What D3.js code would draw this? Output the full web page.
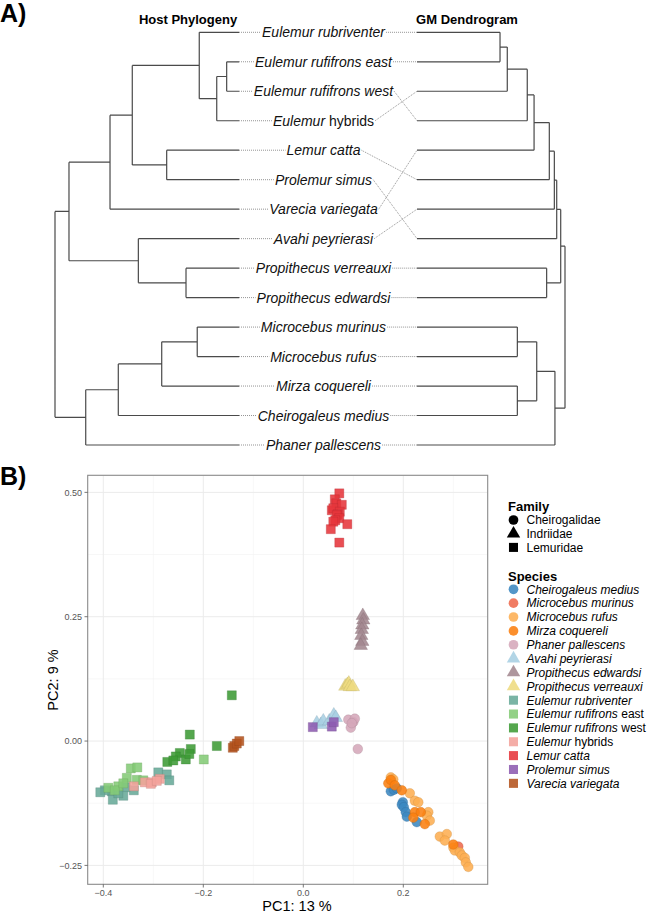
<!DOCTYPE html>
<html>
<head>
<meta charset="utf-8">
<script src="https://cdn.jsdelivr.net/npm/d3@7"></script>
<style>
body { margin: 0; background: #fff; }
text { font-family: "Liberation Sans", Arial, sans-serif; }
</style>
</head>
<body>
<svg id="fig" width="650" height="913"></svg>
<script>
// trees: [nodeHeight, childA, childB], leaves are species names
const hostTree = [1.0,
  [0.924,
    [0.701,
      [0.580,
        [0.216, "Eulemur rubriventer",
          [0.121, [0.067, "Eulemur rufifrons east", "Eulemur rufifrons west"], "Eulemur hybrids"]],
        [0.393, "Lemur catta", "Prolemur simus"]],
      "Varecia variegata"],
    [0.547, "Avahi peyrierasi", [0.288, "Propithecus verreauxi", "Propithecus edwardsi"]]],
  [0.833,
    [0.656, [0.420, [0.227, "Microcebus murinus", "Microcebus rufus"], "Mirza coquereli"], "Cheirogaleus medius"],
    "Phaner pallescens"]];

const gmTree = [1.0,
  [0.971,
    [0.944,
      [0.928,
        [0.894,
          [0.791,
            [0.745,
              [0.610, [0.561, "Eulemur rubriventer", "Eulemur rufifrons east"], "Eulemur hybrids"],
              "Eulemur rufifrons west"],
            "Varecia variegata"],
          "Lemur catta"],
        "Avahi peyrierasi"],
      "Prolemur simus"],
    [0.876, "Propithecus verreauxi", "Propithecus edwardsi"]],
  [0.932,
    [0.809, [0.678, "Microcebus murinus", "Microcebus rufus"], [0.678, "Mirza coquereli", "Cheirogaleus medius"]],
    "Phaner pallescens"]];

const species = ["Cheirogaleus medius", "Microcebus murinus", "Microcebus rufus", "Mirza coquereli",
  "Phaner pallescens", "Avahi peyrierasi", "Propithecus edwardsi", "Propithecus verreauxi",
  "Eulemur rubriventer", "Eulemur rufifrons east", "Eulemur rufifrons west", "Eulemur hybrids",
  "Lemur catta", "Prolemur simus", "Varecia variegata"];
const speciesFamily = [0, 0, 0, 0, 0, 1, 1, 1, 2, 2, 2, 2, 2, 2, 2];
const speciesColors = ["#3b87c0", "#ee6a4d", "#fdae52", "#fb7f10", "#d5a7ba", "#a7cfe3", "#a3878f",
  "#eedb80", "#68aa98", "#84cb76", "#3d9b36", "#f3a29b", "#e6353b", "#8d5bb0", "#b4531e"];
const families = ["Cheirogalidae", "Indriidae", "Lemuridae"];

// PC1, PC2 scores per species
const cheirogaleusMedius = [[0.175, -0.101], [0.181, -0.098], [0.187, -0.095], [0.199, -0.123], [0.197, -0.128],
  [0.201, -0.133], [0.205, -0.143], [0.207, -0.152], [0.227, -0.163]];
const microcebusMurinus = [[0.310, -0.212]];
const microcebusRufus = [[0.175, -0.073], [0.180, -0.077], [0.213, -0.105], [0.223, -0.120], [0.230, -0.123],
  [0.250, -0.143], [0.247, -0.150], [0.253, -0.160], [0.273, -0.192], [0.287, -0.187], [0.283, -0.200],
  [0.300, -0.214], [0.303, -0.220], [0.313, -0.224], [0.317, -0.230], [0.323, -0.235], [0.325, -0.244],
  [0.330, -0.253]];
const mirzaCoquereli = [[0.170, -0.085], [0.175, -0.078], [0.183, -0.089], [0.197, -0.099], [0.223, -0.143],
  [0.235, -0.143], [0.220, -0.154], [0.243, -0.167], [0.300, -0.208]];
const phanerPallescens = [[0.090, 0.043], [0.100, 0.038], [0.095, 0.027], [0.103, 0.045], [0.097, 0.036],
  [0.109, -0.016]];
const avahiPeyrierasi = [[0.027, 0.036], [0.035, 0.033], [0.040, 0.040], [0.052, 0.040], [0.061, 0.052],
  [0.065, 0.047]];
const propithecusEdwardsi = [[0.119, 0.252], [0.120, 0.243], [0.118, 0.233], [0.117, 0.224], [0.116, 0.212],
  [0.118, 0.200], [0.115, 0.192]];
const propithecusVerreauxi = [[0.084, 0.110], [0.088, 0.113], [0.091, 0.116], [0.093, 0.109], [0.099, 0.109]];
const eulemurRubriventer = [[-0.290, -0.063], [-0.273, -0.067], [-0.268, -0.079], [-0.355, -0.093],
  [-0.383, -0.101], [-0.381, -0.118], [-0.397, -0.099], [-0.339, -0.099], [-0.360, -0.110], [-0.406, -0.103],
  [-0.370, -0.105]];
const eulemurRufifronsEast = [[-0.199, -0.037], [-0.345, -0.055], [-0.332, -0.053], [-0.353, -0.074],
  [-0.333, -0.078], [-0.390, -0.094], [-0.370, -0.091], [-0.377, -0.099], [-0.320, -0.079], [-0.360, -0.085]];
const eulemurRufifronsWest = [[-0.143, 0.092], [-0.227, 0.013], [-0.173, -0.010], [-0.225, -0.016],
  [-0.247, -0.024], [-0.255, -0.031], [-0.235, -0.037], [-0.272, -0.042], [-0.260, -0.039], [-0.228, -0.026]];
const eulemurHybrids = [[-0.339, -0.091], [-0.317, -0.083], [-0.303, -0.083], [-0.287, -0.076],
  [-0.305, -0.086], [-0.293, -0.080]];
const lemurCatta = [[0.072, 0.498], [0.063, 0.486], [0.066, 0.478], [0.077, 0.475], [0.057, 0.464],
  [0.060, 0.468], [0.073, 0.461], [0.069, 0.456], [0.067, 0.454], [0.072, 0.448], [0.064, 0.444],
  [0.060, 0.441], [0.088, 0.436], [0.055, 0.426], [0.072, 0.399]];
const prolemurSimus = [[0.019, 0.028], [0.057, 0.029], [0.061, 0.038]];
const vareciaVariegata = [[-0.141, -0.0135], [-0.138, -0.010], [-0.133, -0.005], [-0.128, 0.0]];

const pcScores = [cheirogaleusMedius, microcebusMurinus, microcebusRufus, mirzaCoquereli, phanerPallescens,
  avahiPeyrierasi, propithecusEdwardsi, propithecusVerreauxi, eulemurRubriventer, eulemurRufifronsEast,
  eulemurRufifronsWest, eulemurHybrids, lemurCatta, prolemurSimus, vareciaVariegata];

const xTicks = [-0.4, -0.2, 0.0, 0.2];
const xMinor = [-0.3, -0.1, 0.1, 0.3];
const yTicks = [-0.25, 0.0, 0.25, 0.5];
const yMinor = [-0.125, 0.125, 0.375];
const xLabel = "PC1: 13 %";
const yLabel = "PC2: 9 %";

const svg = d3.select("#fig");

// ---------- A) tanglegram ----------
svg.append("text").attr("x", 0).attr("y", 22).style("font-size", "25px").style("font-weight", "bold").text("A)");
svg.append("text").attr("x", 188).attr("y", 24).attr("text-anchor", "middle")
  .style("font-size", "13px").style("font-weight", "bold").text("Host Phylogeny");
svg.append("text").attr("x", 467).attr("y", 24).attr("text-anchor", "middle")
  .style("font-size", "13px").style("font-weight", "bold").text("GM Dendrogram");

const row = d3.scaleLinear().domain([0, 14]).range([32.3, 445]);
const leftX = d3.scaleLinear().domain([0, 1]).range([239, 55]);
const rightX = d3.scaleLinear().domain([0, 1]).range([417, 565]);

function layout(tree) {
  const leaves = [];
  function walk(node) {
    if (typeof node === "string") {
      leaves.push(node);
      return { h: 0, i: leaves.length - 1 };
    }
    const kids = node.slice(1).map(walk);
    return { h: node[0], i: (kids[0].i + kids[kids.length - 1].i) / 2, kids: kids };
  }
  const root = walk(tree);
  return { root: root, leaves: leaves };
}

function drawTree(t, xs) {
  const p = d3.path();
  (function draw(n) {
    if (!n.kids) return;
    p.moveTo(xs(n.h), row(n.kids[0].i));
    p.lineTo(xs(n.h), row(n.kids[n.kids.length - 1].i));
    n.kids.forEach(function(k) {
      p.moveTo(xs(n.h), row(k.i));
      p.lineTo(xs(k.h), row(k.i));
      draw(k);
    });
  })(t.root);
  svg.append("path").attr("d", p.toString())
    .attr("fill", "none").attr("stroke", "#4a4a4a").attr("stroke-width", 1.2);
}

const host = layout(hostTree);
const gm = layout(gmTree);
drawTree(host, leftX);
drawTree(gm, rightX);

function addName(sel, name, upright) {
  const words = name.split(" ");
  let italicPart = name, plain = "";
  if (upright.indexOf(words[words.length - 1]) >= 0) {
    italicPart = words.slice(0, -1).join(" ");
    plain = " " + words[words.length - 1];
  }
  sel.append("tspan").style("font-style", "italic").text(italicPart);
  if (plain) sel.append("tspan").style("font-style", "normal").text(plain);
}

const dots = svg.append("g");
host.leaves.forEach(function(name, i) {
  const t = svg.append("text").attr("x", 323.5).attr("y", row(i)).attr("dy", "0.36em")
    .attr("text-anchor", "middle").style("font-size", "14px").attr("fill", "#111");
  addName(t, name, ["hybrids"]);
  const w = t.node().getComputedTextLength();
  const j = gm.leaves.indexOf(name);
  dots.append("line").attr("x1", leftX(0)).attr("x2", 323.5 - w / 2 - 1)
    .attr("y1", row(i)).attr("y2", row(i));
  dots.append("line").attr("x1", 323.5 + w / 2 + 1).attr("x2", rightX(0))
    .attr("y1", row(i)).attr("y2", row(j));
});
dots.selectAll("line").attr("stroke", "#666").attr("stroke-width", 0.7).attr("stroke-dasharray", "1,1");

// ---------- B) PCA ----------
svg.append("text").attr("x", 0).attr("y", 485).style("font-size", "25px").style("font-weight", "bold").text("B)");

const x = d3.scaleLinear().domain([-0.4312, 0.3688]).range([87.7, 487.7]);
const y = d3.scaleLinear().domain([-0.288, 0.5343]).range([884.3, 475.3]);

const grid = svg.append("g");
grid.selectAll(".vmin").data(xMinor).enter().append("line")
  .attr("x1", d => x(d)).attr("x2", d => x(d)).attr("y1", 475.3).attr("y2", 884.3)
  .attr("stroke", "#f2f2f2").attr("stroke-width", 0.6);
grid.selectAll(".hmin").data(yMinor).enter().append("line")
  .attr("x1", 87.7).attr("x2", 487.7).attr("y1", d => y(d)).attr("y2", d => y(d))
  .attr("stroke", "#f2f2f2").attr("stroke-width", 0.6);
grid.selectAll(".vmaj").data(xTicks).enter().append("line")
  .attr("x1", d => x(d)).attr("x2", d => x(d)).attr("y1", 475.3).attr("y2", 884.3)
  .attr("stroke", "#ebebeb").attr("stroke-width", 1);
grid.selectAll(".hmaj").data(yTicks).enter().append("line")
  .attr("x1", 87.7).attr("x2", 487.7).attr("y1", d => y(d)).attr("y2", d => y(d))
  .attr("stroke", "#ebebeb").attr("stroke-width", 1);

const shapes = [d3.symbolCircle, d3.symbolTriangle, d3.symbolSquare];
const shapeSize = [74, 78, 82];

const pts = svg.append("g");
pcScores.forEach(function(arr, s) {
  const f = speciesFamily[s];
  pts.selectAll(null).data(arr).enter().append("path")
    .attr("d", d3.symbol().type(shapes[f]).size(shapeSize[f]))
    .attr("transform", d => "translate(" + x(d[0]) + "," + y(d[1]) + ")")
    .attr("fill", speciesColors[s]).attr("fill-opacity", 0.88)
    .attr("stroke", d3.color(speciesColors[s]).darker(0.7)).attr("stroke-width", 0.5).attr("stroke-opacity", 0.6);
});

svg.append("rect").attr("x", 87.7).attr("y", 475.3).attr("width", 400).attr("height", 409)
  .attr("fill", "none").attr("stroke", "#8a8a8a").attr("stroke-width", 1.1);

const fmt = d => (d < 0 ? "\u2212" : "") + Math.abs(d).toFixed(1);
const ax = svg.append("g").attr("fill", "#555").style("font-size", "9px");
xTicks.forEach(function(d) {
  ax.append("line").attr("x1", x(d)).attr("x2", x(d)).attr("y1", 884.3).attr("y2", 887.5)
    .attr("stroke", "#555").attr("stroke-width", 0.8);
  ax.append("text").attr("x", x(d)).attr("y", 896).attr("text-anchor", "middle").text(fmt(d));
});
yTicks.forEach(function(d) {
  ax.append("line").attr("x1", 84.5).attr("x2", 87.7).attr("y1", y(d)).attr("y2", y(d))
    .attr("stroke", "#555").attr("stroke-width", 0.8);
  ax.append("text").attr("x", 82).attr("y", y(d)).attr("dy", "0.35em").attr("text-anchor", "end")
    .text((d < 0 ? "\u2212" : "") + Math.abs(d).toFixed(2));
});
svg.append("text").attr("x", 297).attr("y", 911).attr("text-anchor", "middle")
  .style("font-size", "14.5px").text(xLabel);
svg.append("text").attr("transform", "translate(58,680) rotate(-90)").attr("text-anchor", "middle")
  .style("font-size", "14.5px").text(yLabel);

// legend
const lg = svg.append("g");
lg.append("text").attr("x", 508).attr("y", 511).style("font-size", "13px").style("font-weight", "bold").text("Family");
families.forEach(function(f, i) {
  const cy = 520 + i * 13.7;
  lg.append("path").attr("d", d3.symbol().type(shapes[i]).size(shapeSize[i])())
    .attr("transform", "translate(513.5," + cy + ")").attr("fill", "#000");
  lg.append("text").attr("x", 526.5).attr("y", cy).attr("dy", "0.36em").style("font-size", "12px").text(f);
});
lg.append("text").attr("x", 508).attr("y", 580.5).style("font-size", "13px").style("font-weight", "bold").text("Species");
species.forEach(function(s, i) {
  const cy = 589.3 + i * 13.86;
  const f = speciesFamily[i];
  lg.append("path").attr("d", d3.symbol().type(shapes[f]).size(shapeSize[f])())
    .attr("transform", "translate(513.5," + cy + ")")
    .attr("fill", speciesColors[i]).attr("fill-opacity", 0.88);
  const t = lg.append("text").attr("x", 526.5).attr("y", cy).attr("dy", "0.36em").style("font-size", "12px");
  addName(t, s, ["east", "west", "hybrids"]);
});
</script>
</body>
</html>
